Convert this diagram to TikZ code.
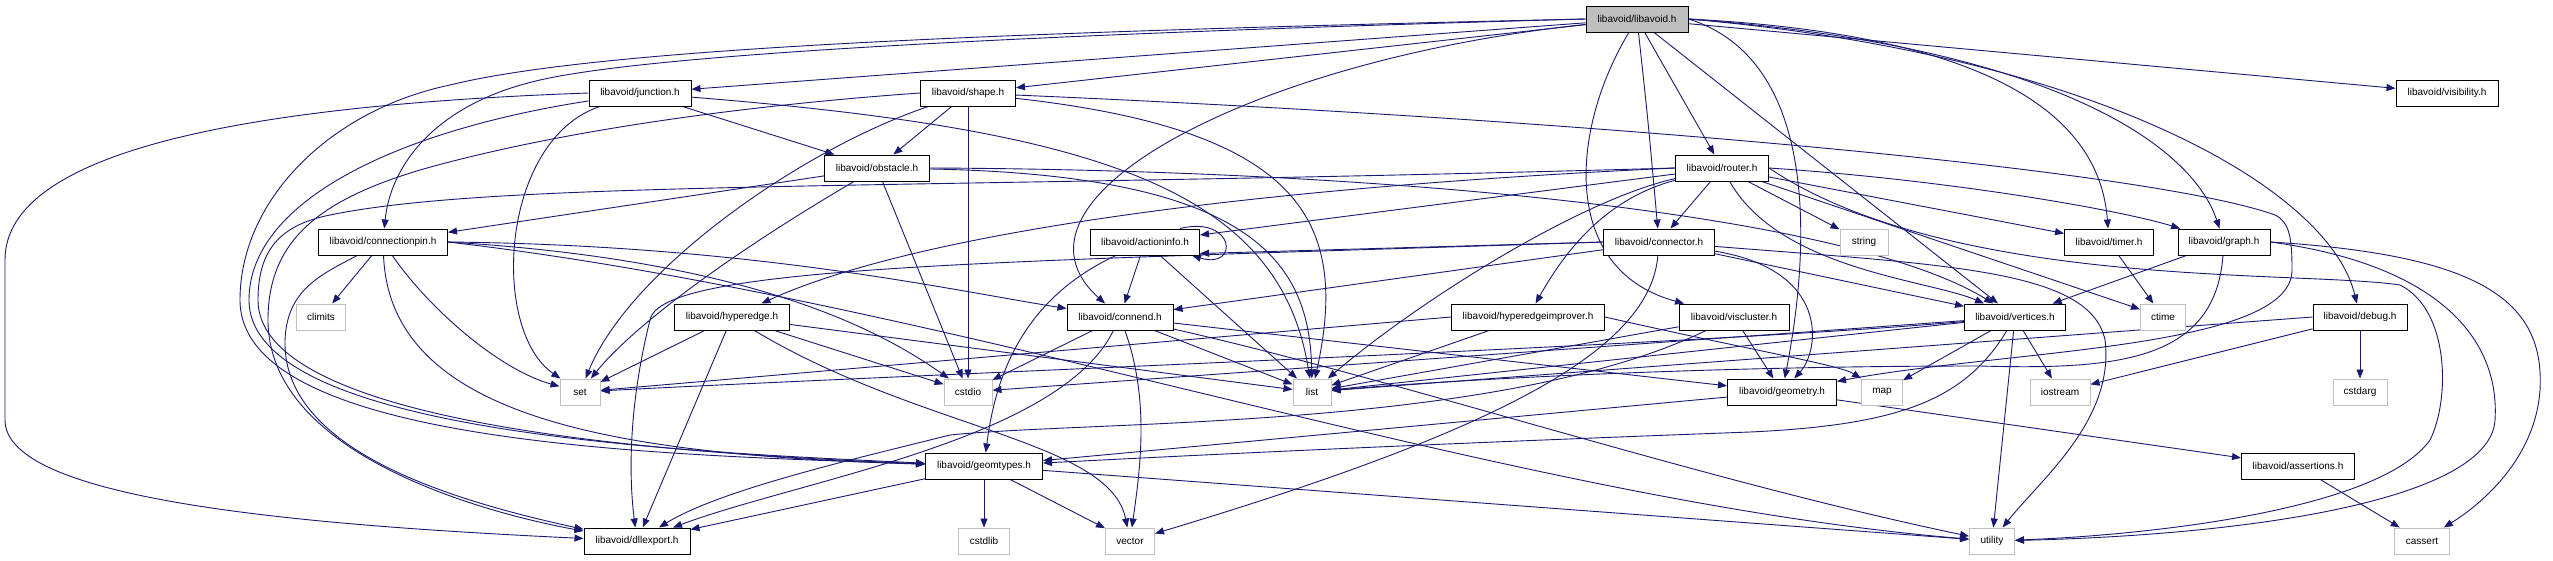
\documentclass[tikz,border=0pt]{standalone}
\usepackage{fontspec}
\setmainfont{Liberation Sans}
\usetikzlibrary{arrows.meta}
\definecolor{edgec}{HTML}{191970}
\definecolor{sysgray}{HTML}{BFBFBF}
\pgfdeclarelayer{bg}
\pgfdeclarelayer{paper}
\pgfsetlayers{paper,bg,main}
\begin{document}
\begin{tikzpicture}[x=1pt,y=-1pt,
  every node/.style={font=\fontsize{10}{12}\selectfont, inner sep=0pt, minimum height=26pt, align=center},
  fn/.style={draw=black, line width=1pt, fill=white},
  sn/.style={draw=sysgray, line width=1pt, fill=white},
  rn/.style={draw=black, line width=1pt, fill=sysgray},
  e/.style={draw=edgec, line width=0.9pt, -{Triangle[length=9pt,width=7pt]}}]
\begin{pgfonlayer}{paper}
\fill[white] (0,0) rectangle (2553,560);
\end{pgfonlayer}
\useasboundingbox (0,0) rectangle (2553,560);
% nodes
\node[rn, minimum width=102pt] (libavoid) at (1637,19) {libavoid/libavoid.h};
\node[fn, minimum width=102pt] (junction) at (640,93) {libavoid/junction.h};
\node[fn, minimum width=95pt] (shape) at (968,93) {libavoid/shape.h};
\node[fn, minimum width=102pt] (visibility) at (2447,93) {libavoid/visibility.h};
\node[fn, minimum width=105pt] (obstacle) at (877,168) {libavoid/obstacle.h};
\node[fn, minimum width=93pt] (router) at (1722,168) {libavoid/router.h};
\node[fn, minimum width=129pt] (connectionpin) at (383,242) {libavoid/connectionpin.h};
\node[fn, minimum width=109pt] (actioninfo) at (1145,242) {libavoid/actioninfo.h};
\node[fn, minimum width=111pt] (connector) at (1659,242) {libavoid/connector.h};
\node[sn, minimum width=48pt] (string) at (1864,242) {string};
\node[fn, minimum width=89pt] (timer) at (2109,242) {libavoid/timer.h};
\node[fn, minimum width=92pt] (graph) at (2224,242) {libavoid/graph.h};
\node[sn, minimum width=49pt] (climits) at (321,317) {climits};
\node[fn, minimum width=115pt] (hyperedge) at (732,317) {libavoid/hyperedge.h};
\node[fn, minimum width=106pt] (connend) at (1120,317) {libavoid/connend.h};
\node[fn, minimum width=153pt] (hyperedgeimprover) at (1528,317) {libavoid/hyperedgeimprover.h};
\node[fn, minimum width=110pt] (viscluster) at (1734,317) {libavoid/viscluster.h};
\node[fn, minimum width=101pt] (vertices) at (2015,317) {libavoid/vertices.h};
\node[sn, minimum width=45pt] (ctime) at (2163,317) {ctime};
\node[fn, minimum width=94pt] (debug) at (2360,317) {libavoid/debug.h};
\node[sn, minimum width=40pt] (set) at (580,392) {set};
\node[sn, minimum width=48pt] (cstdio) at (968,392) {cstdio};
\node[sn, minimum width=38pt] (list) at (1312,392) {list};
\node[fn, minimum width=109pt] (geometry) at (1782,392) {libavoid/geometry.h};
\node[sn, minimum width=41pt] (map) at (1882,392) {map};
\node[sn, minimum width=60pt] (iostream) at (2060,392) {iostream};
\node[sn, minimum width=54pt] (cstdarg) at (2360,392) {cstdarg};
\node[fn, minimum width=117pt] (geomtypes) at (984,466) {libavoid/geomtypes.h};
\node[fn, minimum width=113pt] (assertions) at (2298,466) {libavoid/assertions.h};
\node[fn, minimum width=106pt] (dllexport) at (637,541) {libavoid/dllexport.h};
\node[sn, minimum width=51pt] (cstdlib) at (984,541) {cstdlib};
\node[sn, minimum width=49pt] (vector) at (1130,541) {vector};
\node[sn, minimum width=45pt] (utility) at (1992,541) {utility};
\node[sn, minimum width=55pt] (cassert) at (2422,541) {cassert};
\begin{pgfonlayer}{bg}
% libavoid
\draw[e] (libavoid) -- (junction);
\draw[e] (libavoid) -- (shape);
\draw[e] (libavoid) -- (visibility);
\draw[e] (libavoid) -- (router);
\draw[e] (libavoid) .. controls (1648,120) .. (connector);
\draw[e] (libavoid) .. controls (1250,60) and (990,200) .. (connend);
\draw[e] (libavoid) .. controls (1570,130) and (1560,270) .. (viscluster);
\draw[e] (libavoid) -- (vertices);
\draw[e] (libavoid.east) .. controls (2000,35) and (2100,120) .. (timer);
\draw[e] (libavoid.east) .. controls (2040,45) and (2190,140) .. (graph);
\draw[e] (libavoid.east) .. controls (2100,55) and (2330,190) .. (debug);
\draw[e] (libavoid.east) .. controls (1820,60) and (1810,250) .. (geometry);
\draw[e] (libavoid.west) .. controls (1000,35) and (650,55) .. (540,80) .. controls (430,105) and (390,170) .. (connectionpin);
\draw[e] (libavoid.west) .. controls (1000,32) and (600,48) .. (450,85) .. controls (330,110) and (240,200) .. (240,300) .. controls (240,445) and (660,455) .. (geomtypes);
% junction
\draw[e] (junction) -- (obstacle);
\draw[e] (junction.west) .. controls (250,105) and (5,150) .. (5,260) -- (5,420) .. controls (5,500) and (300,525) .. (dllexport);
\draw[e] (junction) .. controls (500,140) and (490,330) .. (set);
\draw[e] (junction) .. controls (1100,130) and (1280,190) .. (list);
\draw[e] (junction) .. controls (400,130) and (249,200) .. (249,300) .. controls (249,435) and (690,452) .. (geomtypes);
% shape
\draw[e] (shape) -- (obstacle);
\draw[e] (shape) -- (cstdio);
\draw[e] (shape) .. controls (800,150) and (630,270) .. (set);
\draw[e] (shape) .. controls (1300,130) and (1350,220) .. (list);
\draw[e] (shape.west) .. controls (750,105) and (560,130) .. (420,170) .. controls (320,200) and (268,240) .. (268,320) .. controls (268,450) and (470,510) .. (dllexport);
\draw[e] (shape) .. controls (1600,120) and (2150,170) .. (2275,215) .. controls (2290,222) and (2292,240) .. (2292,270) .. controls (2292,350) and (2000,350) .. (geometry);
% obstacle
\draw[e] (obstacle) -- (connectionpin);
\draw[e] (obstacle) .. controls (720,260) and (630,330) .. (set);
\draw[e] (obstacle) -- (cstdio);
\draw[e] (obstacle) .. controls (1250,175) and (1310,260) .. (list);
\draw[e] (obstacle.east) .. controls (1400,170) and (1850,215) .. (vertices);
% connectionpin
\draw[e] (connectionpin) -- (climits);
\draw[e] (connectionpin) .. controls (430,310) and (500,370) .. (set);
\draw[e] (connectionpin) .. controls (320,275) and (287,290) .. (285,340) .. controls (282,450) and (450,500) .. (dllexport);
\draw[e] (connectionpin) .. controls (390,420) and (620,455) .. (geomtypes);
\draw[e] (connectionpin.east) .. controls (750,245) and (950,290) .. (connend);
\draw[e] (connectionpin.east) .. controls (750,260) and (880,330) .. (cstdio);
\draw[e] (connectionpin.east) .. controls (950,300) and (1500,500) .. (utility);
% hyperedge
\draw[e] (hyperedge) -- (set);
\draw[e] (hyperedge) -- (dllexport);
\draw[e] (hyperedge) -- (cstdio);
\draw[e] (hyperedge) -- (list);
\draw[e] (hyperedge) .. controls (920,430) and (1110,440) .. (vector);
% connend
\draw[e] (connend) -- (cstdio);
\draw[e] (connend) -- (list);
\draw[e] (connend) .. controls (1150,400) and (1140,470) .. (vector);
\draw[e] (connend) .. controls (1060,440) and (800,480) .. (dllexport);
\draw[e] (connend) .. controls (1400,380) and (1700,480) .. (utility);
\draw[e] (connend) -- (geometry);
% actioninfo
\draw[e] ([xshift=-20pt]actioninfo.north east) .. controls (1235,215) and (1240,270) .. ([xshift=-8pt]actioninfo.south east);
\draw[e] (actioninfo) -- (connend);
\draw[e] (actioninfo) -- (list);
\draw[e] (actioninfo) .. controls (1020,300) and (995,380) .. (geomtypes);
% connector
\draw[e] (connector.west) -- ([yshift=2pt]actioninfo.south east);
\draw[e] (connector) -- (connend);
\draw[e] (connector) -- (vertices);
\draw[e] (connector) .. controls (1830,270) and (1820,350) .. (geometry);
\draw[e] (connector) .. controls (1650,350) and (1500,430) .. (vector);
\draw[e] (connector) .. controls (1950,265) and (2090,270) .. (2105,340) .. controls (2115,420) and (2040,480) .. (utility);
\draw[e] (connector.west) .. controls (1000,262) and (660,265) .. (650,320) .. controls (630,400) and (628,470) .. (dllexport);
% router
\draw[e] (router) -- (string);
\draw[e] (router) -- (timer);
\draw[e] (router.east) .. controls (1950,180) and (2120,210) .. (graph);
\draw[e] (router) -- (ctime);
\draw[e] (router) .. controls (1780,270) and (1930,280) .. (vertices);
\draw[e] (router) -- (connector);
\draw[e] (router) -- (actioninfo);
\draw[e] (router.west) .. controls (1200,190) and (900,240) .. (hyperedge);
\draw[e] (router) .. controls (1600,200) and (1560,260) .. (hyperedgeimprover);
\draw[e] (router) .. controls (1580,200) and (1420,300) .. (list);
\draw[e] (router.west) .. controls (900,190) and (500,180) .. (330,215) .. controls (280,225) and (258,250) .. (258,300) .. controls (258,430) and (700,455) .. (geomtypes);
\draw[e] (router.east) .. controls (1950,290) and (2300,270) .. (2400,285) .. controls (2450,310) and (2450,400) .. (2430,440) .. controls (2380,510) and (2150,535) .. (utility);
% vertices
\draw[e] (vertices) -- (list);
\draw[e] (vertices) .. controls (1700,345) and (900,375) .. (set);
\draw[e] (vertices) -- (cstdio);
\draw[e] (vertices) -- (map);
\draw[e] (vertices) -- (iostream);
\draw[e] (vertices) -- (utility);
\draw[e] (vertices) .. controls (1965,400) and (1900,425) .. (1750,432) .. controls (1400,445) and (1200,455) .. (geomtypes);
% geometry
\draw[e] (geometry) -- (geomtypes);
\draw[e] (geometry) -- (assertions);
% viscluster
\draw[e] (viscluster) -- (geometry);
\draw[e] (viscluster) -- (list);
\draw[e] (viscluster) .. controls (1500,430) and (1100,420) .. (950,435) .. controls (850,460) and (720,490) .. (dllexport);
% hyperedgeimprover
\draw[e] (hyperedgeimprover) -- (list);
\draw[e] (hyperedgeimprover.west) -- (set);
\draw[e] (hyperedgeimprover.east) .. controls (1750,350) and (1840,365) .. (map);
% graph
\draw[e] (graph) -- (vertices);
\draw[e] (graph) .. controls (2215,360) and (2120,370) .. (1980,366) .. controls (1700,366) and (1450,380) .. (list);
\draw[e] (graph.east) .. controls (2440,265) and (2500,340) .. (2495,420) .. controls (2490,500) and (2250,535) .. (utility);
\draw[e] (graph.east) .. controls (2480,255) and (2545,300) .. (2540,390) .. controls (2535,460) and (2480,505) .. (cassert);
% timer
\draw[e] (timer) -- (ctime);
% debug
\draw[e] (debug) -- (cstdarg);
\draw[e] (debug) -- (iostream);
\draw[e] (debug.west) -- (list);
% assertions
\draw[e] (assertions) -- (cassert);
% geomtypes
\draw[e] (geomtypes) -- (cstdlib);
\draw[e] (geomtypes) -- (vector);
\draw[e] (geomtypes) -- (utility);
\draw[e] (geomtypes) -- (dllexport);
\end{pgfonlayer}
\end{tikzpicture}
\end{document}
